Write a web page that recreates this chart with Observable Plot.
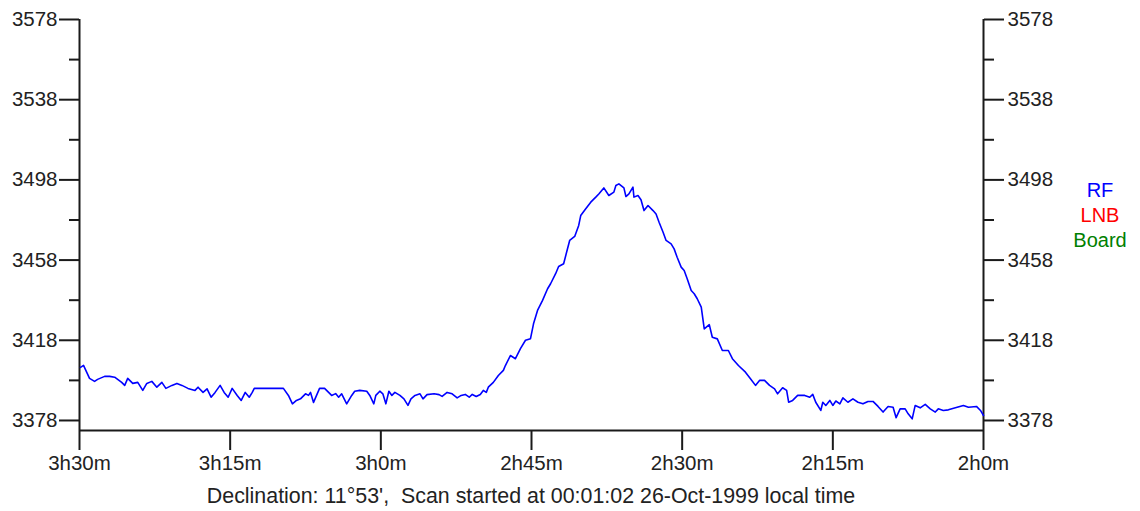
<!DOCTYPE html>
<html>
<head>
<meta charset="utf-8">
<script src="https://cdn.jsdelivr.net/npm/d3@7"></script>
<script src="https://cdn.jsdelivr.net/npm/@observablehq/plot@0.6"></script>
<style>
  html, body { margin: 0; padding: 0; background: #fff; }
  #wrap { position: relative; width: 1140px; height: 511px; }
  #legend { position: absolute; left: 1064px; top: 178px; width: 72px; text-align: center;
            font-family: "Liberation Sans", Arial, sans-serif; font-size: 20px; line-height: 25px; }
  #caption { position: absolute; left: 79px; width: 904px; top: 484px; text-align: center; color: #222;
             font-family: "Liberation Sans", Arial, sans-serif; font-size: 21.4px; line-height: 24px; white-space: pre; }
</style>
</head>
<body>
<div id="wrap"></div>
<script>
// Right ascension (minutes) of each sample
const raMinutes = [
  209.9,209.6,209.0,208.5,208.2,207.5,207.0,206.5,205.8,205.5,205.2,204.7,204.2,203.7,203.3,202.8,202.3,201.8,201.4,200.8,
  200.3,199.8,199.2,198.5,198.2,197.7,197.3,196.9,196.5,196.0,195.6,195.2,194.8,194.3,193.9,193.5,193.1,192.8,192.6,189.7,
  189.2,188.8,188.4,188.0,187.5,187.2,187.0,186.7,186.4,186.1,185.6,185.2,184.9,184.5,184.2,183.9,183.4,182.9,182.6,182.1,
  181.4,181.1,180.7,180.5,180.1,179.8,179.5,179.2,178.9,178.6,178.1,177.7,177.3,177.0,176.6,176.1,175.8,175.4,174.7,174.2,
  173.9,173.4,172.9,172.4,172.0,171.6,171.2,170.9,170.5,170.1,169.8,169.5,169.3,168.8,168.3,167.8,167.6,167.1,166.6,166.1,
  165.6,165.1,164.8,164.4,163.9,163.4,163.1,162.6,162.3,161.8,161.5,161.2,160.7,160.3,160.1,159.6,159.1,158.6,158.3,157.8,
  157.3,156.8,156.6,156.3,155.8,155.6,155.3,154.9,154.8,154.4,154.1,153.8,153.4,152.9,152.6,152.3,151.9,151.6,151.1,150.8,
  150.5,150.1,149.8,149.5,149.1,148.8,148.5,148.1,147.8,147.3,147.0,146.5,146.0,145.4,145.0,144.4,143.7,143.2,142.7,142.3,
  141.8,141.3,140.8,140.5,140.0,139.6,139.4,139.0,138.5,137.8,137.3,137.0,136.7,136.2,136.0,135.7,135.3,135.0,134.7,134.3,
  134.0,133.5,133.0,132.5,132.0,131.5,131.0,130.5,130.0,129.5,129.0,128.7,128.3,127.8,127.5,127.1,126.8,126.3,125.8,125.3,
  124.8,124.5,124.0,123.5,122.8,122.0,121.5,120.7,120.3,120.0
];
// RF receiver output
const rfValues = [
  3404.5,3405.5,3399.0,3397.5,3398.5,3400.0,3400.0,3399.6,3397.0,3395.5,3399.0,3396.5,3397.0,3393.0,3396.5,3397.5,3394.6,3397.0,3394.0,3395.5,
  3396.5,3395.5,3394.0,3393.0,3394.6,3392.0,3393.8,3389.6,3392.0,3395.5,3392.0,3389.6,3394.0,3390.5,3388.0,3392.0,3389.6,3392.0,3394.0,3394.0,
  3390.5,3386.3,3388.0,3388.8,3391.3,3390.5,3392.0,3387.0,3390.5,3394.0,3394.0,3392.0,3390.5,3391.4,3389.6,3391.3,3386.3,3390.5,3392.6,3393.0,
  3392.6,3390.5,3386.3,3390.5,3392.6,3391.3,3386.3,3392.6,3390.5,3392.0,3390.5,3388.8,3385.5,3388.8,3390.5,3391.3,3388.8,3390.9,3391.3,3390.9,
  3390.0,3392.0,3391.3,3389.3,3390.5,3391.0,3389.6,3391.0,3390.0,3391.0,3393.0,3392.0,3394.6,3397.0,3400.4,3403.0,3405.4,3410.4,3408.8,3413.8,
  3418.0,3418.8,3426.2,3432.9,3437.9,3443.7,3446.2,3451.2,3454.8,3456.2,3462.0,3467.8,3469.8,3475.3,3480.2,3483.6,3486.9,3489.4,3491.0,3494.0,
  3490.2,3491.9,3495.2,3496.0,3494.0,3489.7,3491.0,3494.4,3489.4,3490.2,3488.1,3482.7,3485.2,3482.7,3481.0,3476.9,3471.9,3467.8,3466.1,3463.6,
  3459.4,3454.5,3452.8,3448.7,3442.8,3441.2,3438.7,3434.5,3423.7,3425.8,3419.5,3418.7,3412.9,3412.9,3408.8,3405.4,3402.1,3398.8,3395.5,3398.0,
  3398.0,3395.5,3393.8,3391.3,3394.3,3393.0,3387.1,3388.0,3390.5,3390.5,3389.6,3391.0,3387.1,3383.0,3387.1,3385.5,3388.0,3385.5,3387.7,3386.3,
  3389.3,3387.1,3388.8,3387.1,3386.3,3387.5,3387.5,3385.0,3382.2,3385.0,3384.6,3379.4,3383.8,3383.8,3381.3,3378.8,3385.5,3384.3,3386.0,3383.8,
  3382.2,3383.8,3383.0,3383.3,3384.3,3385.5,3384.6,3385.0,3383.0,3380.5
];
// Axis ticks
const xTickValues = [210, 195, 180, 165, 150, 135, 120];
const xTickLabels = ["3h30m", "3h15m", "3h0m", "2h45m", "2h30m", "2h15m", "2h0m"];
const yMajorTicks = [3378, 3418, 3458, 3498, 3538, 3578];
const yMinorTicks = [3398, 3438, 3478, 3518, 3558];
const yDomain = [3373, 3578];
const xDomain = [210, 120];
const caption = "Declination: 11°53',  Scan started at 00:01:02 26-Oct-1999 local time";
const legendNames = ["RF", "LNB", "Board"];
const legendColors = ["#0000ff", "#ff0000", "#008000"];

const data = raMinutes.map((m, i) => ({m, v: rfValues[i]}));
const labelOf = new Map(xTickValues.map((v, i) => [v, xTickLabels[i]]));

const axisColor = "#1a1a1a";
const chart = Plot.plot({
  width: 1140,
  height: 511,
  marginLeft: 79,
  marginRight: 157,
  marginTop: 19,
  marginBottom: 81,
  style: {fontFamily: "'Liberation Sans', Arial, sans-serif", fontSize: "20.5px", color: "#222", background: "#fff"},
  x: {domain: xDomain},
  y: {domain: yDomain},
  marks: [
    Plot.ruleX([xDomain[0], xDomain[1]], {y1: yDomain[0], y2: yDomain[1], stroke: axisColor, strokeWidth: 2}),
    Plot.ruleY([yDomain[0]], {x1: xDomain[0], x2: xDomain[1], stroke: axisColor, strokeWidth: 2}),
    Plot.axisY({anchor: "left", ticks: yMajorTicks, tickFormat: d => String(d), tickSize: 20, tickPadding: 2, label: null, stroke: axisColor, strokeWidth: 2}),
    Plot.axisY({anchor: "left", ticks: yMinorTicks, tickSize: 10, text: null, label: null, stroke: axisColor, strokeWidth: 2}),
    Plot.axisY({anchor: "right", ticks: yMajorTicks, tickFormat: d => String(d), tickSize: 20, tickPadding: 4, label: null, stroke: axisColor, strokeWidth: 2}),
    Plot.axisY({anchor: "right", ticks: yMinorTicks, tickSize: 10, text: null, label: null, stroke: axisColor, strokeWidth: 2}),
    Plot.axisX({ticks: xTickValues, tickFormat: d => labelOf.get(d), tickSize: 20, tickPadding: 5,
      label: null, stroke: axisColor, strokeWidth: 2}),
    Plot.line(data, {x: "m", y: "v", stroke: "#0000ff", strokeWidth: 1.6})
  ]
});
const wrap = document.getElementById("wrap");
wrap.appendChild(chart);
const cap = document.createElement("div");
cap.id = "caption";
cap.textContent = caption;
wrap.appendChild(cap);
const legend = document.createElement("div");
legend.id = "legend";
legendNames.forEach((n, i) => {
  const d = document.createElement("div");
  d.textContent = n;
  d.style.color = legendColors[i];
  legend.appendChild(d);
});
wrap.appendChild(legend);
</script>
</body>
</html>
